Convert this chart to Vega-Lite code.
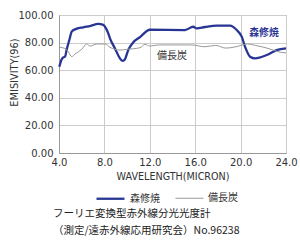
{
  "$schema": "https://vega.github.io/schema/vega-lite/v6.json",
  "width": 227,
  "height": 138,
  "autosize": {"type": "none"},
  "padding": {"left": 59, "top": 15, "right": 14, "bottom": 88},
  "background": "white",
  "config": {
    "font": "Noto Sans CJK JP",
    "view": {"stroke": "#999999", "strokeWidth": 1},
    "axis": {"labelFont": "DejaVu Sans", "titleFont": "DejaVu Sans", "labelColor": "#333333", "titleColor": "#333333", "gridColor": "#cccccc", "domainColor": "#999999", "ticks": false, "labelOverlap": false}
  },
  "title": {
    "text": ["フーリエ変換型赤外線分光光度計", "（測定/遠赤外線応用研究会）No.96238"],
    "orient": "bottom",
    "anchor": "start",
    "frame": "group",
    "fontSize": 10.5,
    "fontWeight": "normal",
    "color": "#222222",
    "lineHeight": 17,
    "offset": 5,
    "dx": -6,
    "font": "Noto Sans CJK JP"
  },
  "datasets": {
    "curves": [
      {"series": "森修焼", "wl": 4.03, "v": 62.5},
      {"series": "森修焼", "wl": 4.24, "v": 67.9},
      {"series": "森修焼", "wl": 4.38, "v": 69.3},
      {"series": "森修焼", "wl": 4.53, "v": 69.8},
      {"series": "森修焼", "wl": 4.68, "v": 75.1},
      {"series": "森修焼", "wl": 4.91, "v": 81.9},
      {"series": "森修焼", "wl": 5.12, "v": 87.9},
      {"series": "森修焼", "wl": 5.41, "v": 89.6},
      {"series": "森修焼", "wl": 6.14, "v": 91.1},
      {"series": "森修焼", "wl": 6.73, "v": 92.0},
      {"series": "森修焼", "wl": 7.46, "v": 93.5},
      {"series": "森修焼", "wl": 7.9, "v": 92.8},
      {"series": "森修焼", "wl": 8.14, "v": 90.3},
      {"series": "森修焼", "wl": 8.34, "v": 86.7},
      {"series": "森修焼", "wl": 8.49, "v": 83.1},
      {"series": "森修焼", "wl": 8.93, "v": 75.8},
      {"series": "森修焼", "wl": 9.37, "v": 68.6},
      {"series": "森修焼", "wl": 9.61, "v": 66.7},
      {"series": "森修焼", "wl": 9.81, "v": 67.9},
      {"series": "森修焼", "wl": 10.1, "v": 74.6},
      {"series": "森修焼", "wl": 10.55, "v": 80.2},
      {"series": "森修焼", "wl": 11.14, "v": 84.0},
      {"series": "森修焼", "wl": 12.0, "v": 89.3},
      {"series": "森修焼", "wl": 15.1, "v": 89.1},
      {"series": "森修焼", "wl": 15.83, "v": 91.5},
      {"series": "森修焼", "wl": 16.13, "v": 90.3},
      {"series": "森修焼", "wl": 16.86, "v": 91.3},
      {"series": "森修焼", "wl": 17.89, "v": 92.3},
      {"series": "森修焼", "wl": 19.07, "v": 92.3},
      {"series": "森修焼", "wl": 19.66, "v": 89.1},
      {"series": "森修焼", "wl": 20.1, "v": 84.3},
      {"series": "森修焼", "wl": 20.39, "v": 77.0},
      {"series": "森修焼", "wl": 20.83, "v": 69.8},
      {"series": "森修焼", "wl": 21.27, "v": 68.6},
      {"series": "森修焼", "wl": 22.3, "v": 71.0},
      {"series": "森修焼", "wl": 23.18, "v": 74.6},
      {"series": "森修焼", "wl": 24.0, "v": 75.8},
      {"series": "備長炭", "wl": 4.03, "v": 76.6},
      {"series": "備長炭", "wl": 4.53, "v": 75.8},
      {"series": "備長炭", "wl": 4.82, "v": 73.4},
      {"series": "備長炭", "wl": 5.12, "v": 69.8},
      {"series": "備長炭", "wl": 5.41, "v": 71.7},
      {"series": "備長炭", "wl": 6.0, "v": 75.1},
      {"series": "備長炭", "wl": 6.44, "v": 79.0},
      {"series": "備長炭", "wl": 6.73, "v": 77.5},
      {"series": "備長炭", "wl": 7.32, "v": 79.0},
      {"series": "備長炭", "wl": 8.05, "v": 79.0},
      {"series": "備長炭", "wl": 8.49, "v": 76.6},
      {"series": "備長炭", "wl": 9.37, "v": 74.6},
      {"series": "備長炭", "wl": 9.96, "v": 75.1},
      {"series": "備長炭", "wl": 11.14, "v": 76.3},
      {"series": "備長炭", "wl": 11.58, "v": 78.7},
      {"series": "備長炭", "wl": 12.0, "v": 77.5},
      {"series": "備長炭", "wl": 12.75, "v": 78.3},
      {"series": "備長炭", "wl": 15.7, "v": 78.3},
      {"series": "備長炭", "wl": 16.86, "v": 77.0},
      {"series": "備長炭", "wl": 17.8, "v": 78.0},
      {"series": "備長炭", "wl": 18.7, "v": 76.0},
      {"series": "備長炭", "wl": 19.6, "v": 77.0},
      {"series": "備長炭", "wl": 20.6, "v": 79.0},
      {"series": "備長炭", "wl": 21.3, "v": 78.0},
      {"series": "備長炭", "wl": 22.5, "v": 75.6},
      {"series": "備長炭", "wl": 23.5, "v": 73.0},
      {"series": "備長炭", "wl": 24.0, "v": 72.5}
    ],
    "labels": [
      {"series": "森修焼", "wl": 22.06, "v": 87},
      {"series": "備長炭", "wl": 13.96, "v": 70.3}
    ]
  },
  "layer": [
    {
      "data": {"name": "curves"},
      "mark": {"type": "line", "interpolate": "monotone"},
      "encoding": {
        "x": {
          "field": "wl", "type": "quantitative",
          "scale": {"domain": [4, 24], "nice": false},
          "axis": {"values": [4, 8, 12, 16, 20, 24], "format": ".1f", "labelFontSize": 10, "labelPadding": 4, "labelOverlap": false, "title": "WAVELENGTH(MICRON)", "titleFontSize": 9.6, "titleFontWeight": "normal", "titlePadding": 4, "labelFlush": false}
        },
        "y": {
          "field": "v", "type": "quantitative",
          "scale": {"domain": [0, 100], "nice": false},
          "axis": {"values": [0, 20, 40, 60, 80, 100], "tickCount": 6, "format": ".2f", "labelFontSize": 10, "labelPadding": 6, "labelOverlap": false, "title": "EMISIVITY(96)", "titleFontSize": 9.8, "titleFontWeight": "normal", "titleX": -45, "titleY": 57, "titleBaseline": "middle", "labelFlush": false}
        },
        "color": {
          "field": "series", "type": "nominal",
          "scale": {"domain": ["森修焼", "備長炭"], "range": ["#283593", "#999999"]},
          "legend": {"orient": "none", "legendX": 36, "legendY": 168, "direction": "horizontal", "title": null, "symbolType": "stroke", "symbolSize": 784, "labelFontSize": 10, "labelColor": "#333333", "labelFont": "Noto Sans CJK JP", "labelOffset": 4, "columnPadding": 13}
        },
        "strokeWidth": {
          "field": "series", "type": "nominal",
          "scale": {"domain": ["森修焼", "備長炭"], "range": [2.3, 1]},
          "legend": null
        }
      }
    },
    {
      "data": {"name": "labels"},
      "transform": [{"filter": "datum.series === '森修焼'"}],
      "mark": {"type": "text", "fontSize": 9.8, "fontWeight": "bold", "color": "#283593", "font": "Noto Sans CJK JP"},
      "encoding": {
        "x": {"field": "wl", "type": "quantitative"},
        "y": {"field": "v", "type": "quantitative"},
        "text": {"field": "series"}
      }
    },
    {
      "data": {"name": "labels"},
      "transform": [{"filter": "datum.series === '備長炭'"}],
      "mark": {"type": "text", "fontSize": 10, "fontWeight": "normal", "color": "#333333", "font": "Noto Sans CJK JP"},
      "encoding": {
        "x": {"field": "wl", "type": "quantitative"},
        "y": {"field": "v", "type": "quantitative"},
        "text": {"field": "series"}
      }
    }
  ]
}
